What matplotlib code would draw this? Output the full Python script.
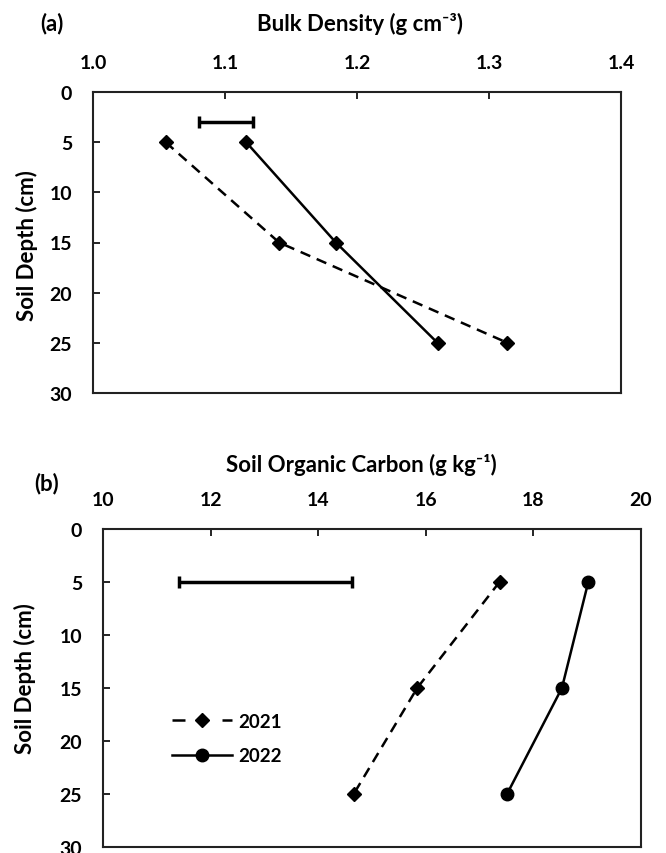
import numpy as np
import matplotlib
matplotlib.use("Agg")
import matplotlib.pyplot as plt
from matplotlib.lines import Line2D

plt.rcParams['font.family'] = ['Lato', 'DejaVu Sans']
plt.rcParams['font.weight'] = 'bold'

depth = [5, 15, 25]

# (a) bulk density
bd_2021 = [1.055, 1.141, 1.314]
bd_2022 = [1.116, 1.184, 1.261]
bd_err = [1.080, 1.121]
bd_err_depth = 3

# (b) soil organic carbon
soc_2021 = [17.37, 15.84, 14.66]
soc_2022 = [19.02, 18.53, 17.51]
soc_err = [11.41, 14.63]
soc_err_depth = 5

bd_ticks = [1.0, 1.1, 1.2, 1.3, 1.4]
soc_ticks = [10, 12, 14, 16, 18, 20]
depth_ticks = [0, 5, 10, 15, 20, 25, 30]

fig = plt.figure(figsize=(6.66, 8.54), dpi=100)
axa = fig.add_axes([93/666, 1-394/854, (621-93)/666, (394-93)/854])
axb = fig.add_axes([103/666, 1-848/854, (641-103)/666, (848-530)/854])

def style(ax, xticks, fmt):
    ax.set_ylim(30, 0)
    ax.set_xlim(xticks[0], xticks[-1])
    ax.set_xticks(xticks)
    ax.set_xticklabels([fmt % t for t in xticks])
    ax.set_yticks(depth_ticks)
    ax.xaxis.tick_top()
    ax.tick_params(direction='in', length=5, width=1.2, labelsize=14, pad=15)
    for s in ax.spines.values():
        s.set_linewidth(1.5)
        s.set_color('#222222')

dash = (0, (4.2, 2.8))
lw = 1.8

# panel a
axa.plot(bd_2021, depth, color='black', lw=lw, linestyle=dash, marker='D', ms=7)
axa.plot(bd_2022, depth, color='black', lw=lw, marker='D', ms=7)
axa.errorbar(np.mean(bd_err), bd_err_depth, xerr=(bd_err[1]-bd_err[0])/2, color='black',
             lw=2.5, capsize=4, capthick=2.5)
style(axa, bd_ticks, '%.1f')

# panel b
axb.plot(soc_2021, depth, color='black', lw=lw, linestyle=dash, marker='D', ms=7)
axb.plot(soc_2022, depth, color='black', lw=lw, marker='o', ms=9)
axb.errorbar(np.mean(soc_err), soc_err_depth, xerr=(soc_err[1]-soc_err[0])/2, color='black',
             lw=2.5, capsize=4, capthick=2.5)
style(axb, soc_ticks, '%d')

handles = [Line2D([], [], color='black', lw=lw, linestyle=(0, (5.2, 14.8)), marker='D', ms=7),
           Line2D([], [], color='black', lw=lw, marker='o', ms=9)]
axb.legend(handles, ['2021', '2022'], loc='center left', bbox_to_anchor=(0.128, 0.341),
           frameon=False, fontsize=13.5, handlelength=3.2, handletextpad=0.35,
           labelspacing=0.95, borderpad=0, borderaxespad=0)

fig.text(360/666, 1-24/854, 'Bulk Density (g cm⁻³)', ha='center', va='center', fontsize=16)
fig.text(52/666, 1-24/854, '(a)', ha='center', va='center', fontsize=16)
fig.text(361/666, 1-465/854, 'Soil Organic Carbon (g kg⁻¹)', ha='center', va='center', fontsize=16)
fig.text(47/666, 1-484/854, '(b)', ha='center', va='center', fontsize=16)
fig.text(27/666, 1-246/854, 'Soil Depth (cm)', ha='center', va='center', rotation=90, fontsize=16)
fig.text(25/666, 1-679/854, 'Soil Depth (cm)', ha='center', va='center', rotation=90, fontsize=16)

fig.savefig('out.png', dpi=100)
